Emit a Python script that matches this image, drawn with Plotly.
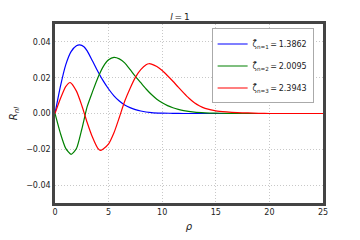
import plotly.graph_objects as go

rho_1 = [0, 0.5, 1.0, 1.5, 2.0, 2.3, 2.7, 3.0, 3.5, 4.0, 4.5, 5.0, 5.5, 6.0, 6.5, 7.0, 7.5, 8.0, 9.0, 10, 11, 12, 15, 20, 25]
R_1 = [0, 0.0150, 0.0272, 0.0346, 0.0378, 0.0383, 0.0373, 0.0350, 0.0293, 0.0235, 0.0182, 0.0137, 0.0099,
       0.0070, 0.0048, 0.0033, 0.0022, 0.0014, 0.0005, 0.0002, 0.0001, 0, 0, 0, 0]

rho_2 = [0, 0.5, 1.0, 1.5, 2.0, 2.5, 3.0, 3.5, 4.0, 4.5, 5.0, 5.5, 6.0, 6.5, 7.0, 7.5, 8.0, 8.5, 9.0, 9.5,
         10, 10.5, 11, 11.5, 12, 13, 14, 15, 16, 17, 20, 25]
R_2 = [0, -0.0110, -0.0195, -0.0228, -0.0196, -0.0088, 0.0038, 0.0122, 0.0200, 0.0262, 0.0300, 0.0313,
       0.0305, 0.0283, 0.0246, 0.0207, 0.0172, 0.0137, 0.0106, 0.0080, 0.0060, 0.0044, 0.0032, 0.0023,
       0.0016, 0.0008, 0.0004, 0.0002, 0.0001, 0, 0, 0]

rho_3 = [0, 0.5, 1.0, 1.42, 2.0, 2.5, 3.0, 3.5, 4.0, 4.22, 4.5, 5.0, 5.5, 6.0, 6.5, 7.0, 7.5, 8.0, 8.5, 8.76,
         9.0, 9.5, 10.0, 10.5, 11.0, 11.5, 12.0, 12.5, 13.0, 13.5, 14, 15, 16, 17, 18, 19, 20, 25]
R_3 = [0, 0.0082, 0.0150, 0.0173, 0.0125, 0.0045, -0.0050, -0.0133, -0.0195, -0.0206, -0.0198, -0.0170,
       -0.0108, -0.0022, 0.0068, 0.0140, 0.0202, 0.0245, 0.0272, 0.0278, 0.0276, 0.0262, 0.0240, 0.0211,
       0.0180, 0.0147, 0.0115, 0.0085, 0.0060, 0.0042, 0.0029, 0.0015, 0.0009, 0.0005, 0.0003, 0.0001, 0, 0]

names = ["ζ̄<sub>n=1</sub>\u2009=\u20091.3862", "ζ̄<sub>n=2</sub>\u2009=\u20092.0095", "ζ̄<sub>n=3</sub>\u2009=\u20092.3943"]
colors = ["#0000ff", "#008000", "#ff0000"]

x_ticks = [0, 5, 10, 15, 20, 25]
y_ticks = [-0.04, -0.02, 0.0, 0.02, 0.04]
y_labels = ["−0.04", "−0.02", "0.00", "0.02", "0.04"]

fig = go.Figure()
for i, (xs, ys, nm, c) in enumerate(zip([rho_1, rho_2, rho_3], [R_1, R_2, R_3], names, colors)):
    fig.add_trace(go.Scatter(x=xs, y=ys, mode="lines", name=nm, legendgroup=f"g{i}",
                             line=dict(color=c, width=1.2, shape="spline", smoothing=0.6)))

axis_common = dict(showline=True, mirror=True, linecolor="#444444", linewidth=2.5,
                   showgrid=True, gridcolor="#c8c8c8", griddash="1px,2px", gridwidth=1,
                   zeroline=False, ticks="", automargin=False,
                   tickfont=dict(size=8, color="#222222"))

# page body adds an 8px margin, so the figure is sized to fit the 360x240 window
fig.update_layout(
    width=344, height=224,
    margin=dict(l=47, r=29, t=16, b=29),
    paper_bgcolor="white", plot_bgcolor="white",
    font=dict(family="DejaVu Sans", size=8, color="#222222"),
    title=dict(text="<i>l</i>\u2009=\u20091", x=0.5, xanchor="center", y=0.975, yanchor="top",
               font=dict(size=9)),
    showlegend=True,
    legend=dict(x=0.965, y=0.975, xanchor="right", yanchor="top",
                bgcolor="white", bordercolor="#aaaaaa", borderwidth=1,
                font=dict(size=8), tracegroupgap=3, itemwidth=30),
    xaxis=dict(range=[0, 25], tickvals=x_ticks, title=dict(text="<i>ρ</i>", font=dict(size=10)),
               **axis_common),
    yaxis=dict(range=[-0.05, 0.05], tickvals=y_ticks, ticktext=y_labels,
               title=dict(text="<i>R<sub>nl</sub></i>", font=dict(size=10)),
               **axis_common),
)

fig.write_html("out.html")
